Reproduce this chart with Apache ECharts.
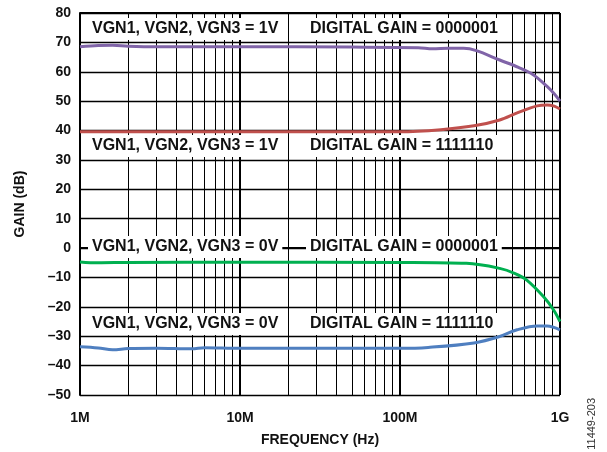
<!DOCTYPE html>
<html><head><meta charset="utf-8">
<script src="https://cdn.jsdelivr.net/npm/echarts@6/dist/echarts.min.js"></script>
<style>html,body{margin:0;padding:0;background:#fff}#c{width:607px;height:452px}</style>
</head><body><div id="c"></div>
<script>
// ---- data ----
const purpleFreq = [1e6,1.3e6,1.6e6,2e6,3e6,10e6,50e6,130e6,160e6,200e6,250e6,300e6,420e6,550e6,680e6,830e6,920e6,1e9];
const purpleGain = [68.5,68.9,69.0,68.7,68.5,68.5,68.4,68.2,67.8,68.0,68.0,67.2,64.0,61.5,59.0,55.0,52.5,50.0];
const redFreq = [1e6,10e6,100e6,180e6,290e6,420e6,540e6,720e6,830e6,920e6,1e9];
const redGain = [39.6,39.6,39.6,40.3,41.6,43.6,46.0,48.4,48.7,48.3,47.3];
const greenFreq = [1e6,1.3e6,2e6,10e6,100e6,260e6,420e6,520e6,620e6,790e6,910e6,1e9];
const greenGain = [-4.7,-5.0,-4.9,-4.8,-4.9,-5.2,-6.9,-8.6,-10.9,-16.6,-21.0,-25.0];
const blueFreq = [1e6,1.3e6,1.6e6,2e6,3e6,5e6,6e6,10e6,100e6,150e6,290e6,420e6,540e6,720e6,830e6,1e9];
const blueGain = [-33.6,-34.0,-34.6,-34.2,-34.1,-34.3,-33.9,-34.1,-34.1,-33.8,-32.3,-30.1,-27.8,-26.5,-26.5,-27.8];
const xTickLabels = {1e6:'1M',1e7:'10M',1e8:'100M',1e9:'1G'};
const decades = [1e6,1e7,1e8];
const annotations = [
  ['VGN1, VGN2, VGN3 = 1V','DIGITAL GAIN = 0000001'],
  ['VGN1, VGN2, VGN3 = 1V','DIGITAL GAIN = 1111110'],
  ['VGN1, VGN2, VGN3 = 0V','DIGITAL GAIN = 0000001'],
  ['VGN1, VGN2, VGN3 = 0V','DIGITAL GAIN = 1111110']
];
const annotationY = [29,146,247,324];

const zip = (a,b)=>a.map((v,i)=>[v,b[i]]);
const minorLines = [];
decades.forEach(d=>{for(let k=2;k<=9;k++) minorLines.push({xAxis:k*d});});
const majorLines = [1e7,1e8].map(v=>({xAxis:v}));

const FONT = '"Liberation Sans", Arial, sans-serif';
const chart = echarts.init(document.getElementById('c'),null,{renderer:'canvas'});
function mkSeries(data,color){
  return {type:'line',data,smooth:0.35,showSymbol:false,symbol:'none',
    lineStyle:{color,width:3},z:5,animation:false};
}
const graphics = [];
annotations.forEach((pair,i)=>{
  graphics.push({type:'text',left:88,top:annotationY[i]-11,z:100,
    style:{text:pair[0],font:'bold 16px '+FONT,fill:'#111',backgroundColor:'#fff',padding:[3,4,3,4]}});
  graphics.push({type:'text',left:306,top:annotationY[i]-11,z:100,
    style:{text:pair[1],font:'bold 16px '+FONT,fill:'#111',backgroundColor:'#fff',padding:[3,4,3,4]}});
});
graphics.push({type:'text',left:586,top:398,rotation:Math.PI/2,z:100,
  style:{text:'11449-203',font:'11px '+FONT,fill:'#333'}});

chart.setOption({
  animation:false,
  grid:{left:80,right:47,top:13,bottom:57,containLabel:false,outerBoundsMode:'none'},
  xAxis:{type:'log',logBase:10,min:1e6,max:1e9,
    name:'FREQUENCY (Hz)',nameLocation:'middle',nameGap:38,
    nameTextStyle:{fontFamily:FONT,fontWeight:'bold',fontSize:14,color:'#111'},
    axisLine:{show:true,lineStyle:{color:'#000',width:2}},
    axisTick:{show:false},
    axisLabel:{fontFamily:FONT,fontWeight:'bold',fontSize:14,color:'#111',margin:16,
      formatter:v=>xTickLabels[v]||''},
    splitLine:{show:false},minorTick:{show:false},minorSplitLine:{show:false}},
  yAxis:{type:'value',min:-50,max:80,interval:10,
    name:'GAIN (dB)',nameLocation:'middle',nameGap:53,nameRotate:90,
    nameTextStyle:{fontFamily:FONT,fontWeight:'bold',fontSize:14,color:'#111'},
    axisLine:{show:true,lineStyle:{color:'#000',width:2}},
    axisTick:{show:false},
    axisLabel:{fontFamily:FONT,fontWeight:'bold',fontSize:14,color:'#111',margin:9,
      formatter:v=>v<0?'\u2013'+Math.abs(v):String(v)},
    splitLine:{show:true,lineStyle:{color:'#000',width:1.3}}},
  graphic:graphics,
  series:[
    {type:'line',data:[],z:1,markLine:{silent:true,symbol:'none',animation:false,
      label:{show:false},lineStyle:{color:'#000',width:1,type:'solid'},
      data:minorLines}},
    {type:'line',data:[],z:1,markLine:{silent:true,symbol:'none',animation:false,
      label:{show:false},lineStyle:{color:'#000',width:2,type:'solid'},
      data:majorLines}},
    {type:'line',data:[],z:1,markLine:{silent:true,symbol:'none',animation:false,
      label:{show:false},lineStyle:{color:'#000',width:2,type:'solid'},
      data:[{xAxis:1e9},{yAxis:80}]}},
    mkSeries(zip(purpleFreq,purpleGain),'#8064A8'),
    mkSeries(zip(redFreq,redGain),'#C0504D'),
    mkSeries(zip(greenFreq,greenGain),'#00B050'),
    mkSeries(zip(blueFreq,blueGain),'#4F7FC0')
  ]
});
</script></body></html>
